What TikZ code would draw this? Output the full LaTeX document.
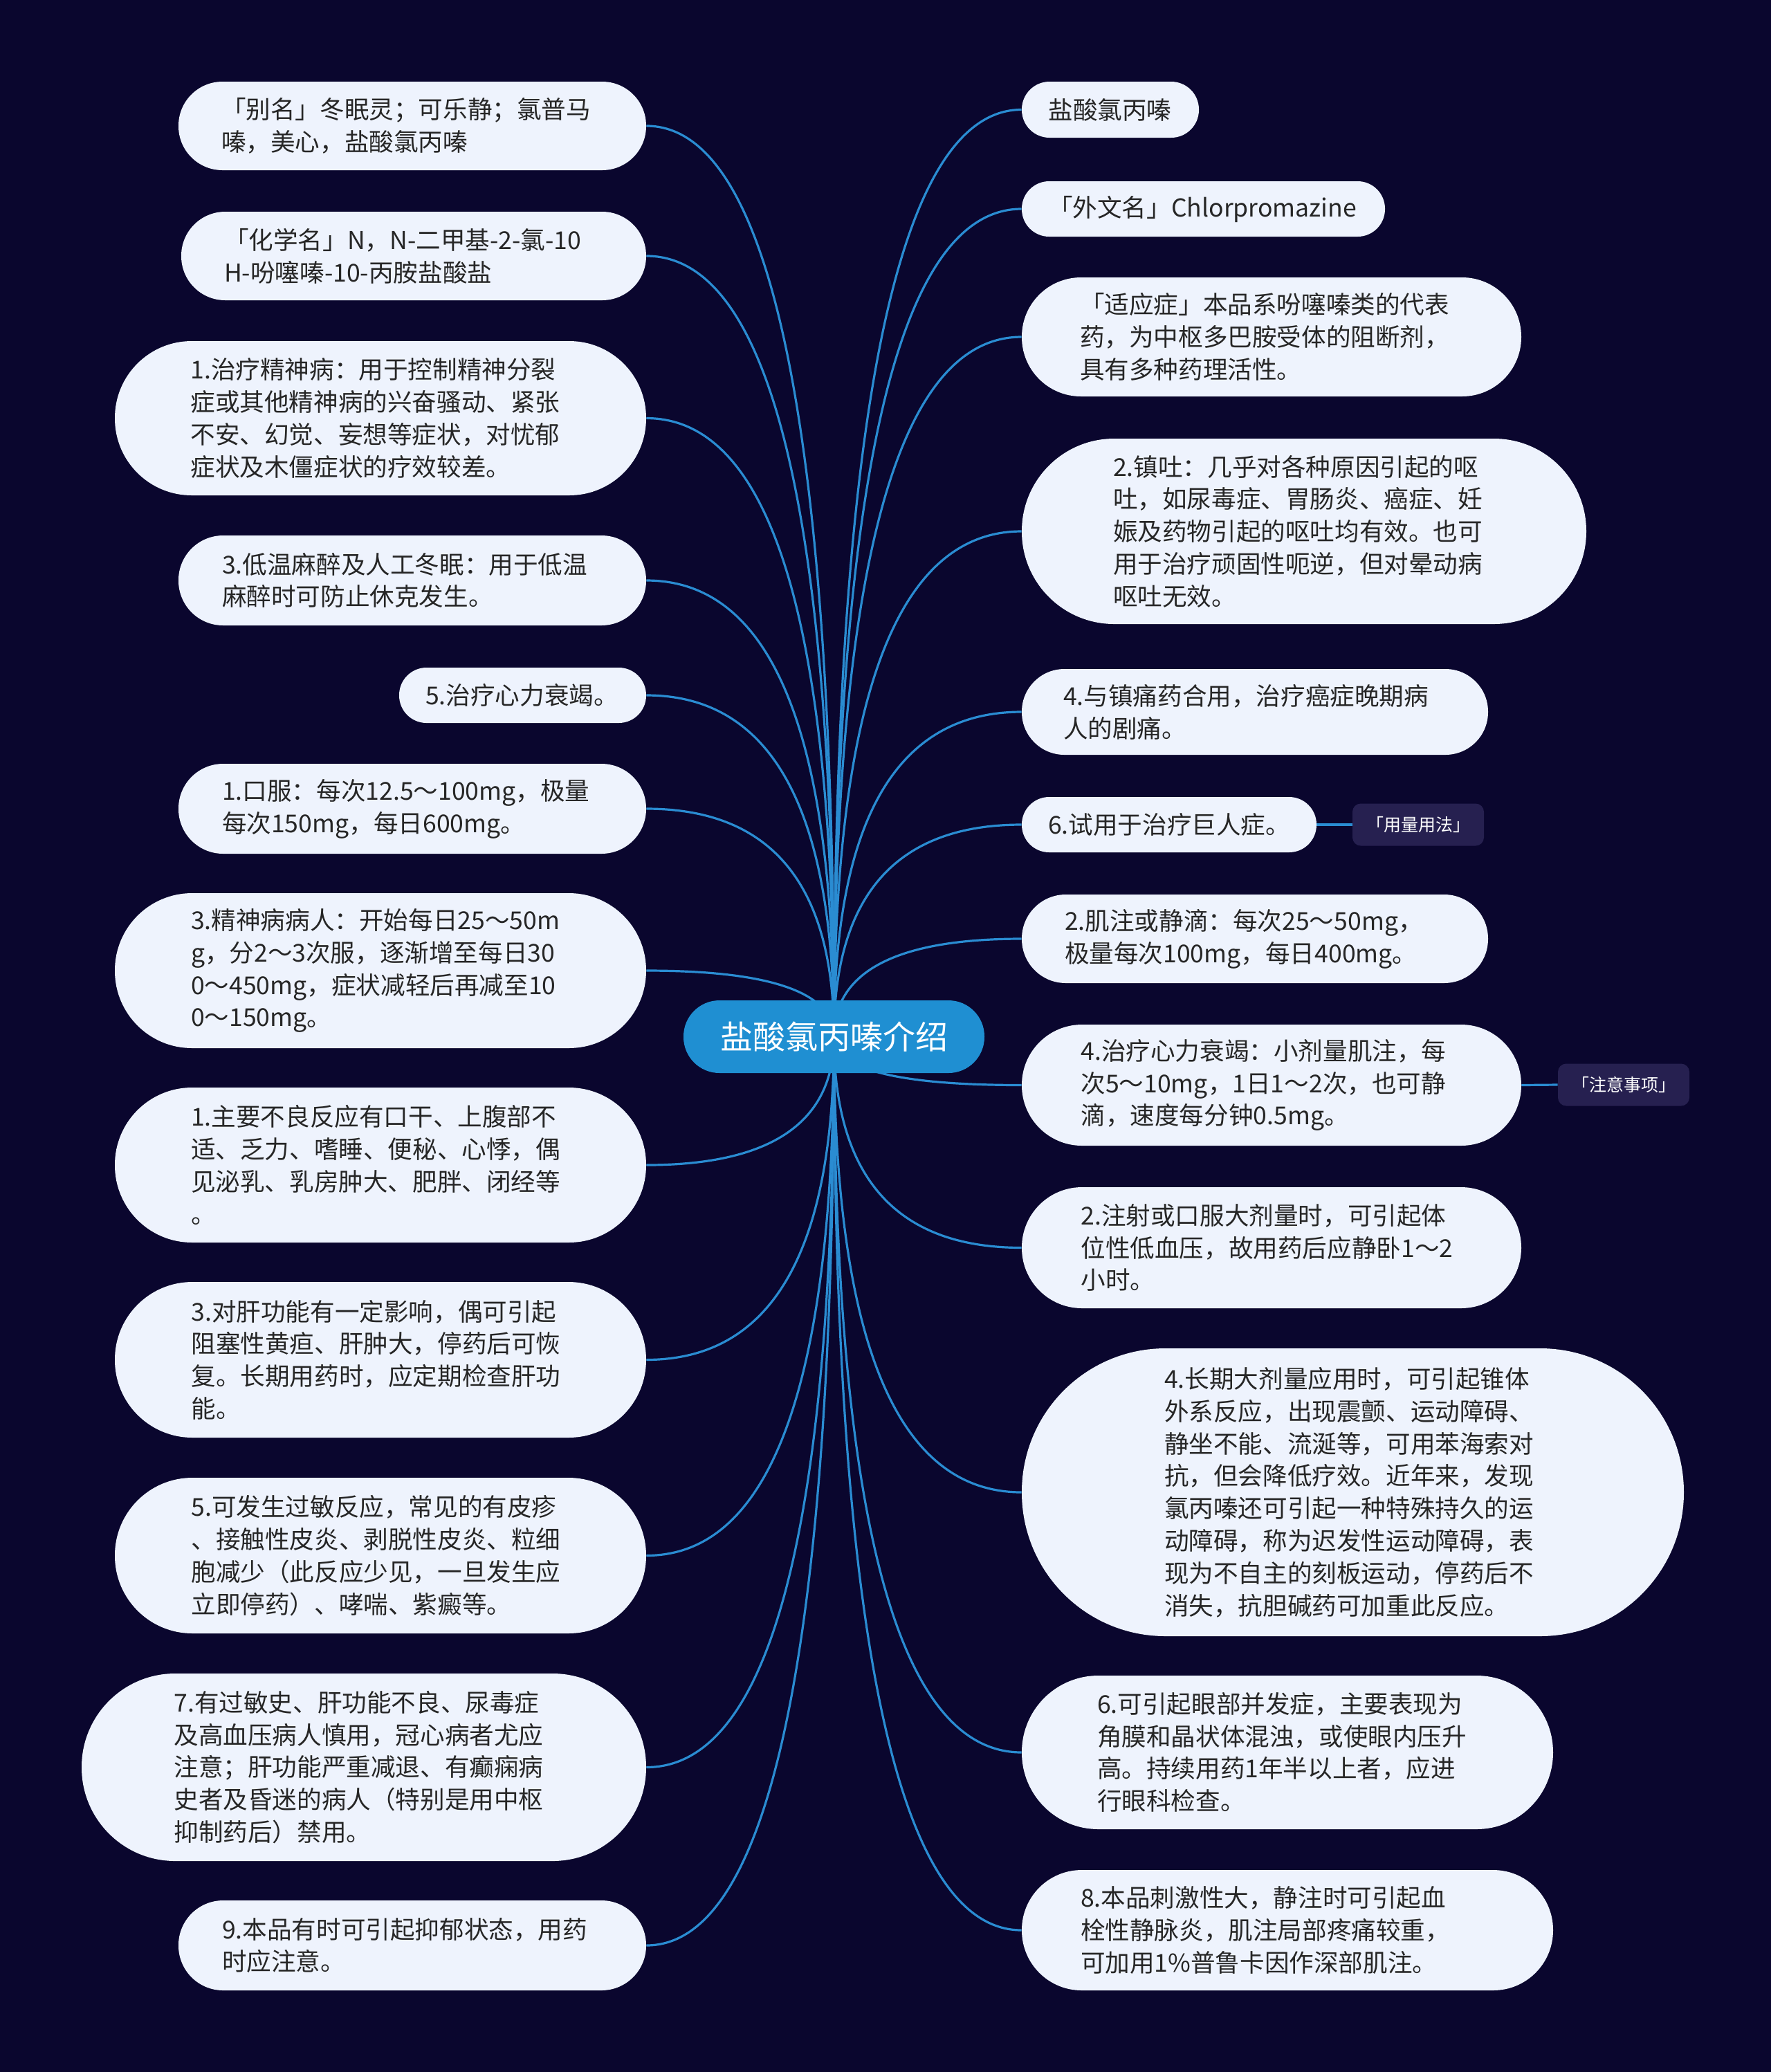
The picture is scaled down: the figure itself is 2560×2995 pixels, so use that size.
\documentclass[tikz,border=0pt]{standalone}
\usepackage{fontspec}
\setmainfont{Noto Sans CJK SC}
\usetikzlibrary{calc,backgrounds}
\definecolor{bg}{HTML}{0A062E}
\definecolor{bubfill}{HTML}{EEF3FD}
\definecolor{bubtext}{HTML}{262626}
\definecolor{mainfill}{HTML}{1F8FD2}
\definecolor{conncol}{HTML}{2A8CD2}
\definecolor{labfill}{HTML}{262050}
\tikzset{
  bub/.style={fill=bubfill, text=bubtext, align=left, inner ysep=0pt,
    font=\fontsize{17.8pt}{23.4pt}\selectfont},
  sz/.code 2 args={%
    \pgfmathsetmacro\bw{#1}%
    \pgfmathsetmacro\bh{#2}%
    \pgfmathsetmacro\br{#2/2-0.2}%
    \pgfmathsetmacro\bx{#2/2-1}%
    \pgfmathsetmacro\btw{#1-#2+2}%
    \tikzset{minimum width=\bw pt, minimum height=\bh pt, rounded corners=\br pt,
      inner xsep=\bx pt, text width=\btw pt}},
  mainnode/.style={fill=mainfill, text=white, inner sep=0pt,
    font=\fontsize{23.5pt}{28pt}\selectfont,
    minimum width=217.5pt, minimum height=52.5pt, rounded corners=26pt},
  lab/.style={fill=labfill, text=white, inner sep=0pt,
    font=\fontsize{12.5pt}{15pt}\selectfont,
    minimum width=95pt, minimum height=30.5pt, rounded corners=6pt},
  conn/.style={draw=conncol, line width=1.6pt},
}
\begin{document}
\begin{tikzpicture}[x=0.5pt, y=-0.5pt]
\useasboundingbox (0,0) rectangle (2560,2995);
\begin{pgfonlayer}{background}
\fill[bg] (0,0) rectangle (2560,2995);
\end{pgfonlayer}

% centre
\node[mainnode] (M) at (1205.5,1498.5) {盐酸氯丙嗪介绍};

% left side
\node[bub, sz={338}{64}] (L1) at (596,182) {「别名」冬眠灵；可乐静；氯普马\\嗪，美心，盐酸氯丙嗪};
\node[bub, sz={336}{64}] (L2) at (598,370) {「化学名」N，N-二甲基-2-氯-10\\H-吩噻嗪-10-丙胺盐酸盐};
\node[bub, sz={384}{111.5}] (L3) at (550,604.5) {1.治疗精神病：用于控制精神分裂\\症或其他精神病的兴奋骚动、紧张\\不安、幻觉、妄想等症状，对忧郁\\症状及木僵症状的疗效较差。};
\node[bub, sz={338}{65}] (L4) at (596,839) {3.低温麻醉及人工冬眠：用于低温\\麻醉时可防止休克发生。};
\node[bub, sz={178.5}{40}] (L5) at (755.5,1005) {5.治疗心力衰竭。};
\node[bub, sz={338}{65}] (L6) at (596,1169) {1.口服：每次12.5～100mg，极量\\每次150mg，每日600mg。};
\node[bub, sz={384}{112}] (L7) at (550,1403) {3.精神病病人：开始每日25～50m\\g，分2～3次服，逐渐增至每日30\\0～450mg，症状减轻后再减至10\\0～150mg。};
\node[bub, sz={384}{112}] (L8) at (550,1684) {1.主要不良反应有口干、上腹部不\\适、乏力、嗜睡、便秘、心悸，偶\\见泌乳、乳房肿大、肥胖、闭经等\\。};
\node[bub, sz={384}{112.5}] (L9) at (550,1965.5) {3.对肝功能有一定影响，偶可引起\\阻塞性黄疸、肝肿大，停药后可恢\\复。长期用药时，应定期检查肝功\\能。};
\node[bub, sz={384}{112.5}] (L10) at (550,2248.5) {5.可发生过敏反应，常见的有皮疹\\、接触性皮炎、剥脱性皮炎、粒细\\胞减少（此反应少见，一旦发生应\\立即停药）、哮喘、紫癜等。};
\node[bub, sz={408}{135.5}] (L11) at (526,2554.5) {7.有过敏史、肝功能不良、尿毒症\\及高血压病人慎用，冠心病者尤应\\注意；肝功能严重减退、有癫痫病\\史者及昏迷的病人（特别是用中枢\\抑制药后）禁用。};
\node[bub, sz={338}{65}] (L12) at (596,2812) {9.本品有时可引起抑郁状态，用药\\时应注意。};

% right side
\node[bub, sz={128}{40.5}] (R1) at (1605,158.5) {盐酸氯丙嗪};
\node[bub, sz={262.5}{40}] (R2) at (1739.5,302) {「外文名」Chlorpromazine};
\node[bub, sz={361}{86}] (R3) at (1838,487) {「适应症」本品系吩噻嗪类的代表\\药，为中枢多巴胺受体的阻断剂，\\具有多种药理活性。};
\node[bub, sz={408}{134}] (R4) at (1885,768) {2.镇吐：几乎对各种原因引起的呕\\吐，如尿毒症、胃肠炎、癌症、妊\\娠及药物引起的呕吐均有效。也可\\用于治疗顽固性呃逆，但对晕动病\\呕吐无效。};
\node[bub, sz={337}{62}] (R5) at (1814,1029) {4.与镇痛药合用，治疗癌症晚期病\\人的剧痛。};
\node[bub, sz={213}{40}] (R6) at (1690,1192) {6.试用于治疗巨人症。};
\node[bub, sz={337}{64}] (R7) at (1814,1357) {2.肌注或静滴：每次25～50mg，\\极量每次100mg，每日400mg。};
\node[bub, sz={361}{87.5}] (R8) at (1838,1568.5) {4.治疗心力衰竭：小剂量肌注，每\\次5～10mg，1日1～2次，也可静\\滴，速度每分钟0.5mg。};
\node[bub, sz={361}{87.5}] (R9) at (1838,1803.5) {2.注射或口服大剂量时，可引起体\\位性低血压，故用药后应静卧1～2\\小时。};
\node[bub, sz={478.5}{208}] (R10) at (1955.5,2157) {4.长期大剂量应用时，可引起锥体\\外系反应，出现震颤、运动障碍、\\静坐不能、流涎等，可用苯海索对\\抗，但会降低疗效。近年来，发现\\氯丙嗪还可引起一种特殊持久的运\\动障碍，称为迟发性运动障碍，表\\现为不自主的刻板运动，停药后不\\消失，抗胆碱药可加重此反应。};
\node[bub, sz={384}{111}] (R11) at (1861,2533) {6.可引起眼部并发症，主要表现为\\角膜和晶状体混浊，或使眼内压升\\高。持续用药1年半以上者，应进\\行眼科检查。};
\node[bub, sz={384}{87}] (R12) at (1861,2790) {8.本品刺激性大，静注时可引起血\\栓性静脉炎，肌注局部疼痛较重，\\可加用1\%普鲁卡因作深部肌注。};

% tags
\node[lab] (T1) at (2050,1192) {「用量用法」};
\node[lab] (T2) at (2347,1568) {「注意事项」};

\begin{pgfonlayer}{background}
\foreach \n in {L1,L2,L3,L4,L5,L6,L7,L8,L9,L10,L11,L12}{
  \draw[conn] (M.center) .. controls ($(M.center)!0.667!(M.center |- \n.east)$) and ($(\n.east)!0.667!(M.center |- \n.east)$) .. (\n.east);
}
\foreach \n in {R1,R2,R3,R4,R5,R6,R7,R8,R9,R10,R11,R12}{
  \draw[conn] (M.center) .. controls ($(M.center)!0.667!(M.center |- \n.west)$) and ($(\n.west)!0.667!(M.center |- \n.west)$) .. (\n.west);
}
\draw[conn] (R6.east) -- (T1.west);
\draw[conn] (R8.east) -- (T2.west);
\end{pgfonlayer}
\end{tikzpicture}
\end{document}
